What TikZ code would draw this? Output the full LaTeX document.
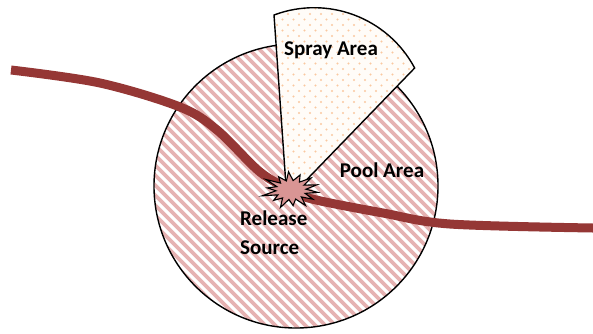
\documentclass[tikz,border=0pt]{standalone}
\usepackage{fontspec}
\setmainfont{Carlito}
\usetikzlibrary{calc}
\definecolor{pipered}{RGB}{149,55,53}
\definecolor{stripe}{RGB}{230,178,178}
\definecolor{burstfill}{RGB}{217,149,148}
\definecolor{spraydot}{RGB}{250,200,160}
\definecolor{spraybg}{RGB}{255,252,248}
\begin{document}
\begin{tikzpicture}[x=1pt,y=-1pt,
  lbl/.style={font=\bfseries\fontsize{21}{21}\selectfont, inner sep=0pt},
  outline/.style={draw=black, line width=1.4pt}]
\useasboundingbox (0,0) rectangle (593,333);

% pool area: striped disc
\coordinate (pc) at (296,186);
\begin{scope}
  \clip (pc) circle (142pt);
  \fill[white] (pc) circle (142pt);
  \foreach \k in {-45,...,45}
    \draw[stripe, line width=3.6pt] ($(pc)+(\k*10,0)+(-220,-220)$) -- ++(440,440);
\end{scope}
\draw[outline] (pc) circle (142pt);

% spray area: dotted sector
\coordinate (apex) at (287,200);
\coordinate (sl) at (274,15);
\path[fill=spraybg] (apex) -- (sl) arc[start angle=110.6, end angle=28.1, radius=114pt] -- cycle;
\begin{scope}
  \clip (apex) -- (sl) arc[start angle=110.6, end angle=28.1, radius=114pt] -- cycle;
  \foreach \r in {0,...,40}
    \foreach \c in {0,...,14}
      \fill[spraydot] ({266+\c*11+mod(\r,2)*5.5},{3+\r*5.5}) circle (1.1pt);
\end{scope}
\draw[outline, line join=miter] (apex) -- (sl) arc[start angle=110.6, end angle=28.1, radius=114pt] -- cycle;

% pipeline
\draw[pipered, line width=9pt] plot[smooth, tension=0.55] coordinates
  {(11,70) (100,83) (180,107) (217,130) (260,172) (291,190) (312,199) (383,213) (450,224) (593,228)};

% release source: irregular burst
\coordinate (bc) at (291,190);
\draw[fill=burstfill, draw=black, line width=1.1pt, line join=miter]
  plot[samples at={0,...,27}, variable=\t]
  ({291+27*(mod(\t,2)==0 ? 1+0.12*sin(\t*97) : 0.56)*cos(\t*12.857+8)},
   {190+17*(mod(\t,2)==0 ? 1+0.12*sin(\t*97) : 0.56)*sin(\t*12.857+8)}) -- cycle;

% labels
\node[lbl] (spray) at (331,50) {Spray Area};
\node[lbl] (pool) at (382,170) {Pool Area};
\node[lbl, anchor=west] (rel) at (240,218) {Release};
\node[lbl, anchor=west] (src) at (240,248) {Source};
\end{tikzpicture}
\end{document}
